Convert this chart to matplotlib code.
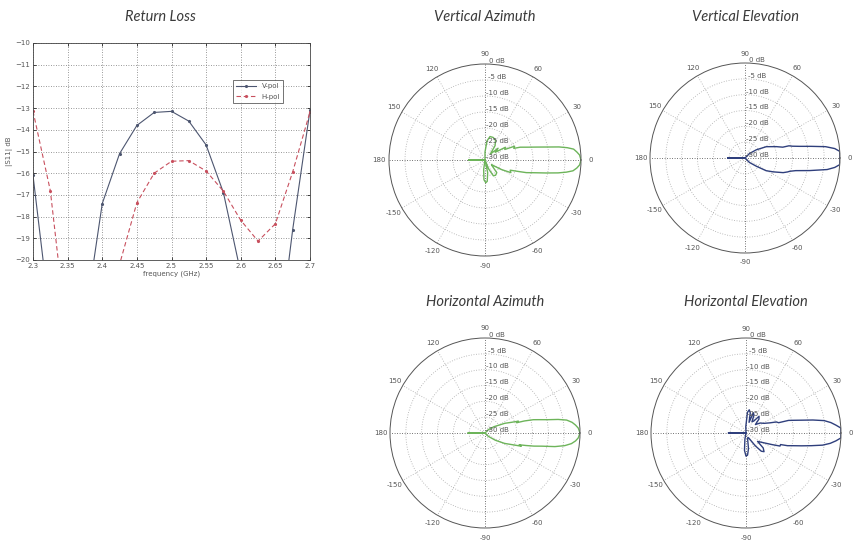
import numpy as np
import matplotlib
matplotlib.use("Agg")
import matplotlib.pyplot as plt

# ---------------- Return loss data ----------------
freq_ghz = [2.300, 2.325, 2.350, 2.375, 2.400, 2.425, 2.450, 2.475, 2.500,
            2.525, 2.550, 2.575, 2.600, 2.625, 2.650, 2.675, 2.700]
s11_vpol = [-16.1, -22.8, -29.0, -22.8, -17.4, -15.1, -13.8, -13.2, -13.15,
            -13.6, -14.7, -16.9, -20.6, -26.0, -25.0, -18.6, -13.1]
s11_hpol = [-13.14, -16.8, -23.8, -27.0, -25.0, -20.2, -17.36, -16.0, -15.45,
            -15.42, -15.9, -16.83, -18.17, -19.13, -18.33, -15.94, -13.17]
freq_ticks = [2.3, 2.35, 2.4, 2.45, 2.5, 2.55, 2.6, 2.65, 2.7]
freq_tick_labels = ["2.3", "2.35", "2.4", "2.45", "2.5", "2.55", "2.6", "2.65", "2.7"]
s11_ticks = [-10, -11, -12, -13, -14, -15, -16, -17, -18, -19, -20]

# ---------------- Radiation patterns (angle in deg, gain in dB) ----------------
va_angle = [-180, -176, -170, -120, -104, -98, -93, -88, -84, -78, -73, -68, -62,
            -55, -47, -40, -36, -30, -26, -22, -19, -17, -14, -12, -10, -8.5, -7,
            -5, -3, 0, 3, 5, 7, 8.5, 10, 12, 14, 17, 20, 22, 25, 28, 32, 37, 42,
            48, 55, 62, 70, 78, 84, 90, 96, 120, 170, 176, 180]
va_gain = [-25.0, -28.5, -30, -30, -30, -27.0, -23.8, -22.9, -23.3, -26.0, -30,
           -27.0, -24.4, -24.2, -24.6, -27.0, -27.5, -24.0, -21.0, -21.5, -19.0,
           -16.5, -13.5, -10.5, -6.8, -4.3, -2.3, -1.2, -0.4, 0.0, -0.4, -1.2,
           -2.1, -4.0, -6.5, -10.5, -13.3, -16.3, -18.3, -20.3, -19.8, -23.0,
           -22.5, -26.0, -24.5, -27.5, -24.5, -23.0, -22.5, -22.5, -24.0, -27.5,
           -30, -30, -30, -28.5, -25.0]

ve_angle = [-180, -177, -170, -120, -60, -45, -36, -31, -26, -21, -18, -16.6, -14,
            -11, -8, -6, -4, 0, 4, 6, 8, 10, 12, 14, 15.5, 16, 20, 24, 28, 36, 45,
            60, 120, 170, 177, 180]
ve_gain = [-24.6, -29.0, -30, -30, -30, -28.0, -25.6, -22.2, -20.0, -17.1, -15.8,
           -15.3, -13.5, -9.2, -3.8, -1.5, 0.0, 0.0, 0.0, -1.5, -4.3, -8.8, -12.3,
           -14.6, -15.6, -17.6, -19.5, -21.2, -22.4, -25.6, -28.0, -30, -30, -30,
           -29.0, -24.6]

ha_angle = [-180, -176, -170, -60, -45, -35, -28, -23, -20, -19, -17, -15, -13,
            -11, -9, -7, -5, -3, 0, 3, 5, 7, 9, 10.5, 12, 14, 15.4, 17, 18, 19.5,
            22, 26, 35, 45, 60, 170, 176, 180]
ha_gain = [-24.7, -29.0, -30, -30, -28.5, -26.0, -23.0, -20.5, -17.8, -18.6, -16.5,
           -14.0, -11.5, -7.5, -4.5, -2.5, -1.3, -0.5, 0.0, -0.5, -1.3, -2.3, -3.9,
           -6.5, -9.8, -12.6, -14.2, -17.0, -19.5, -18.8, -21.0, -23.0, -26.5,
           -28.5, -30, -30, -29.0, -24.7]

he_angle = [-180, -176, -170, -110, -100, -95, -90, -86, -81, -75, -67, -60, -54,
            -50, -46, -41, -36, -30, -24, -21, -18.5, -17, -15, -13, -11, -9, -7,
            -5, -3, 0, 3, 5, 7, 9, 11, 13, 15, 16.5, 17.5, 20, 23, 28, 35, 42, 47,
            52, 57, 62, 66, 70, 74, 78, 82, 86, 92, 100, 170, 176, 180]
he_gain = [-24.5, -29.0, -30, -30, -28.0, -24.5, -22.7, -23.0, -25.0, -28.0, -28.5,
           -28.0, -25.0, -22.5, -21.8, -22.8, -25.5, -24.0, -21.0, -18.5, -18.5,
           -16.3, -14.5, -12.0, -9.0, -5.5, -3.2, -1.5, 0.0, 0.0, 0.0, -1.5, -3.0,
           -5.0, -8.5, -12.0, -14.5, -16.0, -19.2, -19.8, -21.8, -23.5, -24.5,
           -26.0, -24.0, -23.3, -25.5, -26.0, -23.8, -23.2, -26.5, -23.5, -22.6,
           -23.5, -28.0, -30, -30, -29.0, -24.5]

ring_db = [-25, -20, -15, -10, -5]
ring_labels = ["0 dB", "-5 dB", "-10 dB", "-15 dB", "-20 dB", "-25 dB", "-30 dB"]
spoke_deg = [0, 30, 60, 90, 120, 150, 180, 210, 240, 270, 300, 330]
spoke_labels = ["0", "30", "60", "90", "120", "150", "180",
                "-150", "-120", "-90", "-60", "-30"]

GREEN = "#6db45a"
NAVY = "#2f3f7c"
TXT = "#555555"
FLOOR = -30.0

W, H = 859, 548
fig = plt.figure(figsize=(W / 100, H / 100), dpi=100)
fig.patch.set_facecolor("white")


def fig_rect(x0, y0, x1, y1):
    return [x0 / W, 1 - y1 / H, (x1 - x0) / W, (y1 - y0) / H]


title_kw = dict(family="Lato", style="italic", fontsize=10.5, color="#3a3a3a",
                ha="center", va="center")

# ---------------- Return loss panel ----------------
ax = fig.add_axes(fig_rect(33, 43, 310, 260))
ax.plot(freq_ghz, s11_vpol, "-", color="#4d5670", lw=0.8, marker=".", ms=2.5,
        label="V-pol")
ax.plot(freq_ghz, s11_hpol, "--", color="#c8505e", lw=0.8, marker=".", ms=2.5,
        dashes=(4, 2.5), label="H-pol")
ax.set_xlim(2.3, 2.7)
ax.set_ylim(-20, -10)
ax.set_xticks(freq_ticks)
ax.set_xticklabels(freq_tick_labels)
ax.set_yticks(s11_ticks)
ax.tick_params(direction="in", length=2.5, width=0.5, labelsize=5,
               labelcolor=TXT, top=True, right=True, pad=2)
ax.grid(True, linestyle=(0, (1, 2)), color="#777777", lw=0.6)
for sp in ax.spines.values():
    sp.set_linewidth(0.6)
    sp.set_color("#444444")
ax.set_xlabel("frequency (GHz)", fontsize=5, color=TXT, labelpad=1)
ax.set_ylabel("|S11| dB", fontsize=5, color=TXT, labelpad=2)
leg = ax.legend(loc="upper left", bbox_to_anchor=(0.722, 0.83), fontsize=5,
                frameon=True, fancybox=False, borderpad=0.5, handlelength=2.8,
                labelspacing=0.6, borderaxespad=0)
leg.get_frame().set_edgecolor("#333333")
leg.get_frame().set_linewidth(0.6)
for t in leg.get_texts():
    t.set_color(TXT)
fig.text(160 / W, 1 - 17 / H, "Return Loss", **title_kw)


# ---------------- Polar panels ----------------
def polar_panel(cx, cy, R, angles, gains, color, title, title_y):
    pax = fig.add_axes(fig_rect(cx - R, cy - R, cx + R, cy + R),
                       projection="polar")
    pax.set_ylim(0, 30)
    pax.set_xticks([])
    pax.set_yticks([])
    pax.grid(False)
    pax.spines["polar"].set_linewidth(0.7)
    pax.spines["polar"].set_color("#555555")
    full = np.linspace(0, 2 * np.pi, 361)
    for db in ring_db:
        pax.plot(full, np.full_like(full, db - FLOOR), ls=(0, (1, 2)),
                 color="#a8a8a8", lw=0.6)
    for d in spoke_deg:
        dark = d % 90 == 0
        pax.plot([np.radians(d)] * 2, [0, 30], ls=(0, (1, 2)),
                 color="#444444" if dark else "#a8a8a8", lw=0.6)
    for d, lab in zip(spoke_deg, spoke_labels):
        pax.text(np.radians(d), 33.0, lab, fontsize=5, color=TXT,
                 ha="center", va="center", clip_on=False)
    for k, lab in enumerate(ring_labels):
        rr = 30 - 5 * k
        x, y = 3.8, rr + 1.0
        pax.text(np.arctan2(y, x), np.hypot(x, y), lab, fontsize=5, color=TXT,
                 ha="center", va="center", clip_on=False)
    th = np.radians(angles)
    r = np.clip(np.asarray(gains, float) - FLOOR, 0, 30)
    pax.plot(th, r, color=color, lw=1.0)
    fig.text(cx / W, 1 - title_y / H, title, **title_kw)
    return pax


polar_panel(485, 160, 96, va_angle, va_gain, GREEN, "Vertical Azimuth", 17)
polar_panel(745, 158, 95, ve_angle, ve_gain, NAVY, "Vertical Elevation", 17)
polar_panel(485, 433, 95, ha_angle, ha_gain, GREEN, "Horizontal Azimuth", 302)
polar_panel(746, 433, 95, he_angle, he_gain, NAVY, "Horizontal Elevation", 302)

fig.savefig("out.png", dpi=100, facecolor="white")
